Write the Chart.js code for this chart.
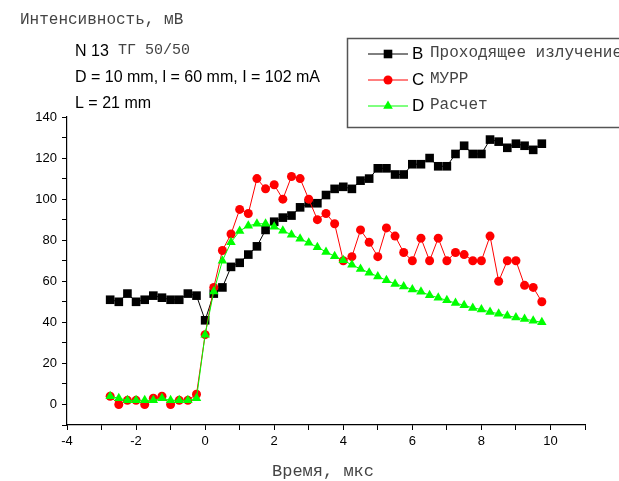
<!DOCTYPE html>
<html>
<head>
<meta charset="utf-8">
<script src="https://cdn.jsdelivr.net/npm/chart.js@4.4.1/dist/chart.umd.min.js"></script>
<style>
  body { margin: 0; background: #fff; }
  canvas { display: block; }
</style>
</head>
<body>
<canvas id="chart" width="619" height="481"></canvas>
<script>
const times = [-2.75, -2.5, -2.25, -2, -1.75, -1.5, -1.25, -1, -0.75, -0.5, -0.25,
  0, 0.25, 0.5, 0.75, 1, 1.25, 1.5, 1.75, 2, 2.25, 2.5, 2.75, 3, 3.25, 3.5, 3.75,
  4, 4.25, 4.5, 4.75, 5, 5.25, 5.5, 5.75, 6, 6.25, 6.5, 6.75, 7, 7.25, 7.5, 7.75,
  8, 8.25, 8.5, 8.75, 9, 9.25, 9.5, 9.75];

// B - Проходящее излучение
const passing = [51, 50, 54, 50, 51, 53, 52, 51, 51, 54, 53,
  41, 54, 57, 67, 69, 73, 77, 85, 89, 91, 92, 96, 98, 98, 102, 105,
  106, 105, 109, 110, 115, 115, 112, 112, 117, 117, 120, 116, 116, 122, 126, 122,
  122, 129, 128, 125, 127, 126, 124, 127];

// C - МУРР
const murr = [4, 0, 2, 2, 0, 3, 4, 0, 2, 2, 5,
  34, 57, 75, 83, 95, 93, 110, 105, 107, 100, 111, 110, 100, 90, 93, 88,
  70, 72, 85, 79, 72, 86, 82, 74, 70, 81, 70, 81, 70, 74, 73, 70,
  70, 82, 60, 70, 70, 58, 57, 50];

// D - Расчет
const calc = [4, 3, 2, 2, 2, 2, 3, 2, 2, 2, 3,
  34, 55, 70, 79, 84.5, 87, 88, 88, 86.6, 84.6, 82.7, 80.7, 78.7, 76.6, 74.3, 72.2,
  70.2, 68, 66, 64.2, 62.3, 60.5, 58.7, 57.5, 56, 54.9, 53.2, 52, 50.7, 49.4, 48.3, 47,
  46.3, 45, 44.2, 43.2, 42.4, 41.6, 40.8, 40];

const seriesLetters = ["B", "C", "D"];
const seriesNames = ["Проходящее излучение", "МУРР", "Расчет"];
const seriesColors = ["#000000", "#ff0000", "#00ff00"];
const xLabels = [-4, -2, 0, 2, 4, 6, 8, 10];
const yLabels = [0, 20, 40, 60, 80, 100, 120, 140];

const monoFont = "'Liberation Mono', 'Courier New', monospace";
const sansFont = "'Liberation Sans', Arial, sans-serif";

function toPoints(values) {
  return times.map((t, i) => ({ x: t, y: values[i] }));
}

// little marker painter, used for the legend
function drawMarker(ctx, kind, x, y, color) {
  ctx.fillStyle = color;
  ctx.beginPath();
  if (kind === "rect") {
    ctx.rect(x - 4.3, y - 4.3, 8.6, 8.6);
  } else if (kind === "circle") {
    ctx.arc(x, y, 4.5, 0, Math.PI * 2);
  } else {
    ctx.moveTo(x, y - 5.5);
    ctx.lineTo(x + 4.8, y + 2.8);
    ctx.lineTo(x - 4.8, y + 2.8);
    ctx.closePath();
  }
  ctx.fill();
}

const markerKinds = ["rect", "circle", "triangle"];

const textPlugin = {
  id: "texts",
  afterDraw(chart) {
    const ctx = chart.ctx;
    ctx.save();
    ctx.textBaseline = "middle";

    // axis titles
    ctx.fillStyle = "#444";
    ctx.font = "16px " + monoFont;
    ctx.textAlign = "left";
    ctx.fillText("Интенсивность, мВ", 20, 20);
    ctx.font = "17px " + monoFont;
    ctx.textAlign = "center";
    ctx.fillText("Время, мкс", 323, 471);

    // notes
    ctx.textAlign = "left";
    ctx.fillStyle = "#000";
    ctx.font = "16px " + sansFont;
    ctx.fillText("N 13", 75, 52);
    ctx.fillText("D = 10 mm, l = 60 mm, I = 102 mA", 75, 78);
    ctx.fillText("L = 21 mm", 75, 104);
    ctx.fillStyle = "#444";
    ctx.font = "15px " + monoFont;
    ctx.fillText("ТГ 50/50", 118, 50);

    // legend box
    ctx.strokeStyle = "#555";
    ctx.lineWidth = 1.5;
    ctx.strokeRect(347.5, 38.5, 300, 89);
    const rowY = [54, 80, 106];
    for (let i = 0; i < 3; i++) {
      const y = rowY[i];
      ctx.strokeStyle = seriesColors[i];
      ctx.lineWidth = 1;
      ctx.beginPath();
      ctx.moveTo(368, y);
      ctx.lineTo(408, y);
      ctx.stroke();
      drawMarker(ctx, markerKinds[i], 388, y, seriesColors[i]);
      ctx.fillStyle = "#000";
      ctx.font = "17px " + sansFont;
      ctx.fillText(seriesLetters[i], 412, y);
      ctx.fillStyle = "#444";
      ctx.font = "16px " + monoFont;
      ctx.fillText(seriesNames[i], 430, y - 1);
    }
    ctx.restore();
  }
};

new Chart(document.getElementById("chart"), {
  type: "line",
  data: {
    datasets: [
      {
        label: seriesNames[0],
        data: toPoints(passing),
        borderColor: seriesColors[0],
        backgroundColor: seriesColors[0],
        borderWidth: 1,
        pointStyle: "rect",
        pointRadius: 6.1,
        pointBorderWidth: 0,
        order: 3
      },
      {
        label: seriesNames[1],
        data: toPoints(murr),
        borderColor: seriesColors[1],
        backgroundColor: seriesColors[1],
        borderWidth: 1,
        pointStyle: "circle",
        pointRadius: 4.5,
        pointBorderWidth: 0,
        order: 2
      },
      {
        label: seriesNames[2],
        data: toPoints(calc),
        borderColor: seriesColors[2],
        backgroundColor: seriesColors[2],
        borderWidth: 1,
        pointStyle: "triangle",
        pointRadius: 5.5,
        pointBorderWidth: 0,
        order: 1
      }
    ]
  },
  options: {
    responsive: false,
    animation: false,
    layout: { padding: { left: 0, top: 117, right: 34, bottom: 16 } },
    plugins: { legend: { display: false }, tooltip: { enabled: false } },
    scales: {
      x: {
        type: "linear",
        min: -4,
        max: 11,
        afterFit: s => { s.height = 40; },
        ticks: {
          stepSize: 1,
          autoSkip: false,
          maxRotation: 0,
          padding: 4,
          color: "#000",
          font: { family: sansFont, size: 13 },
          callback: v => xLabels.includes(v) ? String(v) : ""
        },
        grid: { drawOnChartArea: false, tickLength: 5, tickColor: "#000", color: "#000" },
        border: { color: "#000", width: 1.2 }
      },
      y: {
        min: -10,
        max: 140,
        afterFit: s => { s.width = 67; },
        ticks: {
          stepSize: 10,
          autoSkip: false,
          padding: 5,
          color: "#000",
          font: { family: sansFont, size: 13 },
          callback: v => yLabels.includes(v) ? String(v) : ""
        },
        grid: { drawOnChartArea: false, tickLength: 5, tickColor: "#000", color: "#000" },
        border: { color: "#000", width: 1.2 }
      }
    }
  },
  plugins: [textPlugin]
});
</script>
</body>
</html>
